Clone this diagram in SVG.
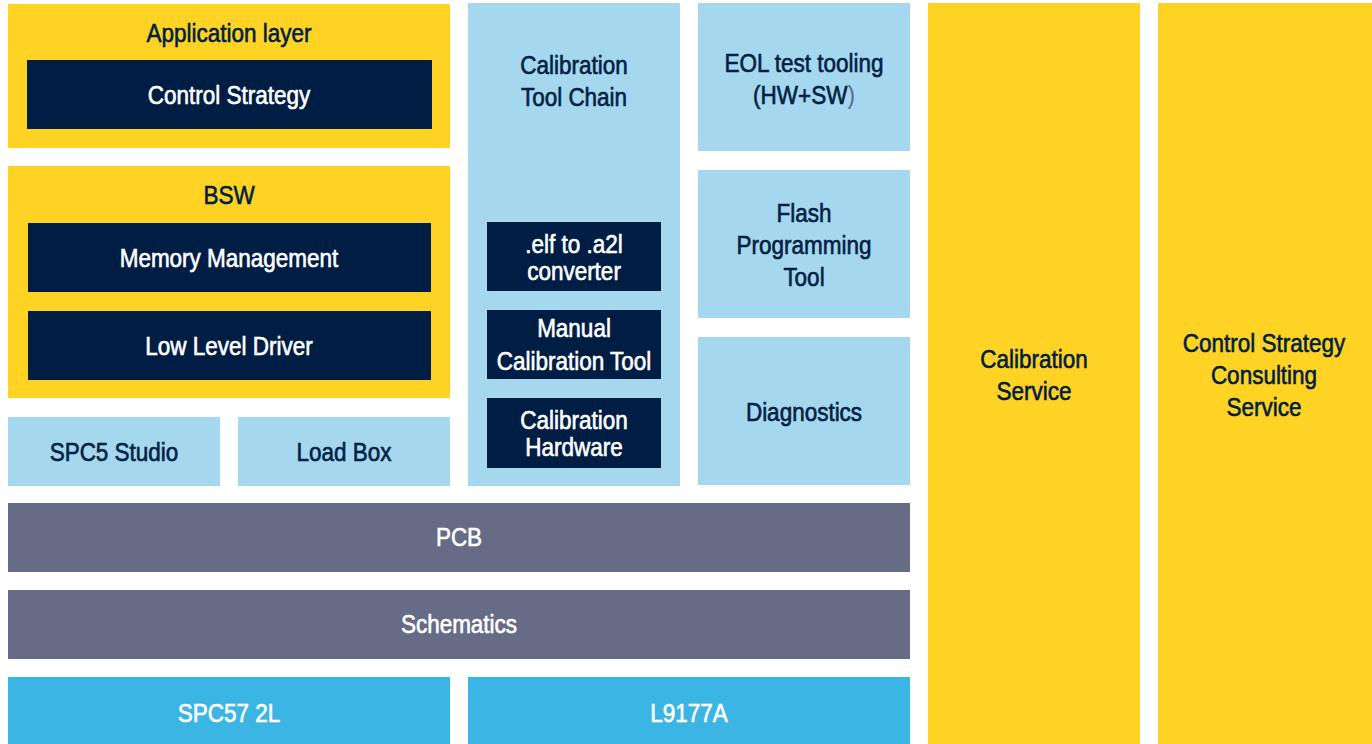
<svg xmlns="http://www.w3.org/2000/svg" width="1372" height="744" viewBox="0 0 1372 744">
<style>
.y{fill:#FFD324}.n{fill:#001E43}.l{fill:#A5D7EF}.g{fill:#666B86}.c{fill:#3BB6E4}
text{font-family:"Liberation Sans",Arial,sans-serif;font-size:25px;text-anchor:middle;stroke-width:0.6px}
.d{fill:#001E43;stroke:#001E43}.w{fill:#FFFFFF;stroke:#FFFFFF}
</style>
<rect width="1372" height="744" fill="#FFFFFF"/>
<g id="app-layer"><rect class="y" x="8" y="4" width="442" height="144"/>
<text class="d" transform="translate(229,42) scale(0.9,1)">Application layer</text></g>
<g id="control-strategy"><rect class="n" x="27" y="60" width="405" height="69"/>
<text class="w" transform="translate(229,104) scale(0.9,1)">Control Strategy</text></g>
<g id="bsw"><rect class="y" x="8" y="166" width="442" height="232"/>
<text class="d" transform="translate(229,204) scale(0.9,1)">BSW</text></g>
<g id="memory-management"><rect class="n" x="28" y="223" width="403" height="69"/>
<text class="w" transform="translate(229,267) scale(0.9,1)">Memory Management</text></g>
<g id="low-level-driver"><rect class="n" x="28" y="311" width="403" height="69"/>
<text class="w" transform="translate(229,355) scale(0.9,1)">Low Level Driver</text></g>
<g id="spc5-studio"><rect class="l" x="8" y="417" width="212" height="69"/>
<text class="d" transform="translate(114,461) scale(0.9,1)">SPC5 Studio</text></g>
<g id="load-box"><rect class="l" x="238" y="417" width="212" height="69"/>
<text class="d" transform="translate(344,461) scale(0.9,1)">Load Box</text></g>
<g id="calibration-tool-chain"><rect class="l" x="468" y="3" width="212" height="483"/>
<text class="d" transform="translate(574,74) scale(0.9,1)">Calibration</text>
<text class="d" transform="translate(574,106) scale(0.9,1)">Tool Chain</text></g>
<g id="elf-a2l"><rect class="n" x="487" y="222" width="174" height="69"/>
<text class="w" transform="translate(574,253) scale(0.9,1)">.elf to .a2l</text>
<text class="w" transform="translate(574,280) scale(0.9,1)">converter</text></g>
<g id="manual-calibration-tool"><rect class="n" x="487" y="310" width="174" height="69"/>
<text class="w" transform="translate(574,337) scale(0.9,1)">Manual</text>
<text class="w" transform="translate(574,370) scale(0.9,1)">Calibration Tool</text></g>
<g id="calibration-hardware"><rect class="n" x="487" y="398" width="174" height="70"/>
<text class="w" transform="translate(574,429) scale(0.9,1)">Calibration</text>
<text class="w" transform="translate(574,456) scale(0.9,1)">Hardware</text></g>
<g id="eol-test-tooling"><rect class="l" x="698" y="3" width="212" height="148"/>
<text class="d" transform="translate(804,72) scale(0.9,1)">EOL test tooling</text>
<text class="d" transform="translate(804,104) scale(0.9,1)">(HW+SW<tspan fill="#5B6B8A" stroke="none">)</tspan></text></g>
<g id="flash-programming-tool"><rect class="l" x="698" y="170" width="212" height="148"/>
<text class="d" transform="translate(804,222) scale(0.9,1)">Flash</text>
<text class="d" transform="translate(804,254) scale(0.9,1)">Programming</text>
<text class="d" transform="translate(804,286) scale(0.9,1)">Tool</text></g>
<g id="diagnostics"><rect class="l" x="698" y="337" width="212" height="148"/>
<text class="d" transform="translate(804,421) scale(0.9,1)">Diagnostics</text></g>
<g id="pcb"><rect class="g" x="8" y="503" width="902" height="69"/>
<text class="w" transform="translate(459,546) scale(0.9,1)">PCB</text></g>
<g id="schematics"><rect class="g" x="8" y="590" width="902" height="69"/>
<text class="w" transform="translate(459,633) scale(0.9,1)">Schematics</text></g>
<g id="spc57-2l"><rect class="c" x="8" y="677" width="442" height="67"/>
<text class="w" transform="translate(229,722) scale(0.9,1)">SPC57 2L</text></g>
<g id="l9177a"><rect class="c" x="468" y="677" width="442" height="67"/>
<text class="w" transform="translate(689,722) scale(0.9,1)">L9177A</text></g>
<g id="calibration-service"><rect class="y" x="928" y="3" width="212" height="741"/>
<text class="d" transform="translate(1034,368) scale(0.9,1)">Calibration</text>
<text class="d" transform="translate(1034,400) scale(0.9,1)">Service</text></g>
<g id="control-strategy-consulting-service"><rect class="y" x="1158" y="3" width="214" height="741"/>
<text class="d" transform="translate(1264,352) scale(0.9,1)">Control Strategy</text>
<text class="d" transform="translate(1264,384) scale(0.9,1)">Consulting</text>
<text class="d" transform="translate(1264,416) scale(0.9,1)">Service</text></g>
<g id="connectors"/>
</svg>
